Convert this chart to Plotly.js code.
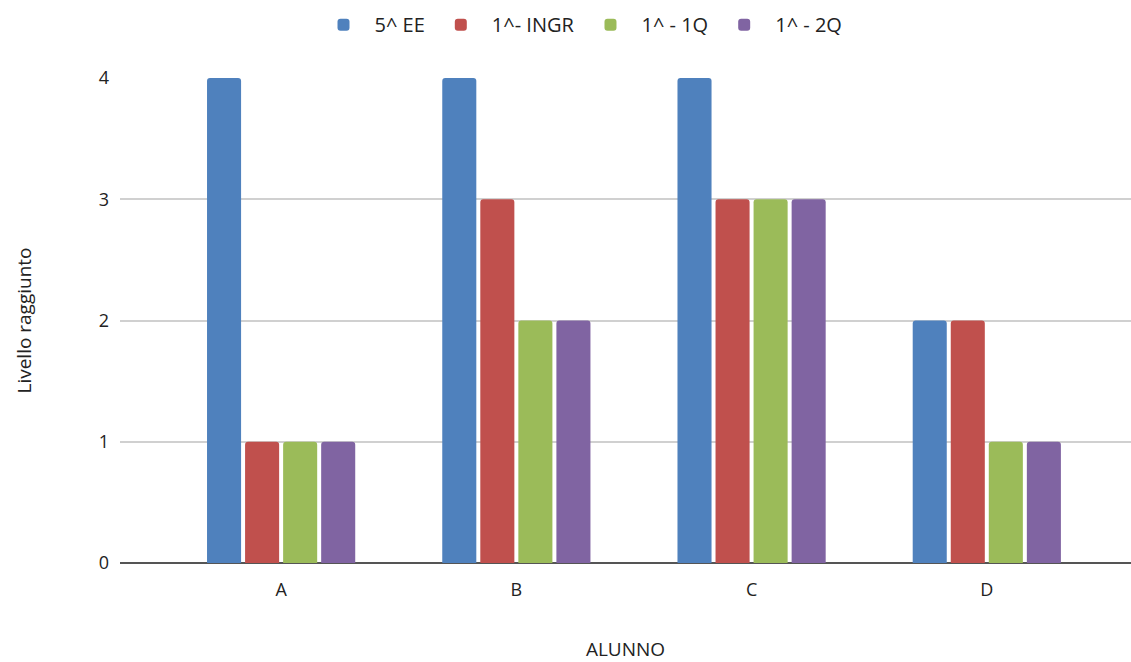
<!DOCTYPE html>
<html>
<head>
<meta charset="utf-8">
<script src="https://cdn.plot.ly/plotly-3.0.1.min.js"></script>
<style>html,body{margin:0;padding:0;background:#fff;}#chart{width:1131px;height:662px;}</style>
</head>
<body>
<div id="chart"></div>
<script>
const categories = ['A', 'B', 'C', 'D'];
const seriesNames = ['5^ EE', '1^- INGR', '1^ - 1Q', '1^ - 2Q'];
const ee5 = [4, 4, 4, 2];
const ingr1 = [1, 3, 3, 2];
const q1 = [1, 2, 3, 1];
const q2 = [1, 2, 3, 1];
const colors = ['#4F81BD', '#C0504D', '#9BBB59', '#8064A2'];
const yTicks = [0, 1, 2, 3, 4];

const allSeries = [ee5, ingr1, q1, q2];
const traces = allSeries.map((vals, i) => ({
  type: 'bar',
  name: seriesNames[i],
  x: categories,
  y: vals,
  marker: {color: colors[i]},
  hoverinfo: 'x+y+name'
}));

const font = {family: '"Open Sans", "Liberation Sans", sans-serif', color: '#222'};

const layout = {
  width: 1131,
  height: 662,
  margin: {l: 120, r: 0, t: 78, b: 99},
  paper_bgcolor: '#fff',
  plot_bgcolor: '#fff',
  font: Object.assign({size: 17}, font),
  barmode: 'group',
  bargap: 0.353,
  bargroupgap: 0.105,
  barcornerradius: 3,
  showlegend: true,
  legend: {
    orientation: 'h',
    x: 0.455, xanchor: 'center',
    y: 1.11, yanchor: 'middle',
    font: {size: 20, family: font.family, color: '#222'},
    itemwidth: 52,
    traceorder: 'normal'
  },
  xaxis: {
    type: 'category',
    range: [-0.685, 3.613],
    showgrid: false,
    zeroline: false,
    showline: false,
    ticks: '',
    ticklabelstandoff: 14,
    tickfont: {size: 18},
    title: {text: 'ALUNNO', font: {size: 19}, standoff: 57},
    automargin: false
  },
  yaxis: {
    range: [0, 4],
    tickvals: yTicks,
    ticktext: yTicks.map(String),
    showgrid: true,
    gridcolor: '#d0d0d0',
    gridwidth: 2,
    zeroline: true,
    zerolinecolor: '#555',
    zerolinewidth: 2,
    showline: false,
    ticks: '',
    ticklabelstandoff: 10,
    tickfont: {size: 18},
    title: {text: 'Livello raggiunto', font: {size: 19}, standoff: 62},
    automargin: false
  }
};

Plotly.newPlot('chart', traces, layout, {displayModeBar: false, responsive: false});
</script>
</body>
</html>
